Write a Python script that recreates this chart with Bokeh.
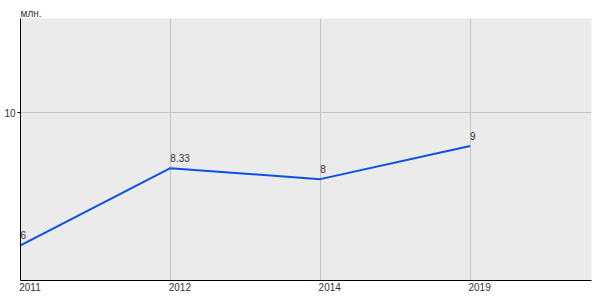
from bokeh.plotting import figure
from bokeh.models import FixedTicker, ColumnDataSource
from bokeh.core.properties import value
from bokeh.embed import file_html
from bokeh.resources import INLINE

years = ["2011", "2012", "2014", "2019"]
values = [6, 8.33, 8, 9]
labels = ["6", "8.33", "8", "9"]
unit = "млн."

xs = list(range(len(years)))
src = ColumnDataSource(dict(x=xs, y=values, t=labels))

FONT = "Liberation Sans"
p = figure(width=600, height=300, output_backend="svg", toolbar_location=None,
           x_range=(0, 3.81), y_range=(4.94, 12.85),
           min_border_left=20, min_border_right=9, min_border_top=18, min_border_bottom=20,
           background_fill_color="#ebebeb", border_fill_color="#ffffff",
           title=unit)
p.title.text_font = FONT
p.title.text_font_size = "10px"
p.title.text_font_style = "normal"
p.title.text_color = "#333333"
p.title.align = "left"
p.title.standoff = 0
p.outline_line_color = None

p.line("x", "y", source=src, line_color="#0a50e6", line_width=2)
p.text("x", "y", text="t", source=src, text_font=value(FONT), text_font_size="10px",
       text_color="#333333", text_align="left", text_baseline="bottom", y_offset=-6)

# x axis: labels starting at tick positions
off = 9.5 / 150
p.xaxis.ticker = FixedTicker(ticks=[i + off for i in xs])
p.xaxis.major_label_overrides = {i + off: y for i, y in zip(xs, years)}
p.xaxis.major_tick_line_color = None
p.xaxis.minor_tick_line_color = None
p.xaxis.major_tick_out = 0
p.xaxis.major_tick_in = 0
p.xaxis.axis_line_color = "#000000"
p.xaxis.major_label_text_font = FONT
p.xaxis.major_label_text_font_size = "10px"
p.xaxis.major_label_text_color = "#333333"
p.xaxis.major_label_standoff = 2
p.xgrid.ticker = FixedTicker(ticks=xs)
p.xgrid.grid_line_color = "#c4c4c4"

p.yaxis.ticker = FixedTicker(ticks=[10])
p.yaxis.major_tick_in = 0
p.yaxis.major_tick_out = 3
p.yaxis.minor_tick_line_color = None
p.yaxis.axis_line_color = "#000000"
p.yaxis.major_label_text_font = FONT
p.yaxis.major_label_text_font_size = "10px"
p.yaxis.major_label_text_color = "#333333"
p.yaxis.major_label_standoff = 2
p.ygrid.grid_line_color = "#c4c4c4"

open("out.html", "w").write(file_html(p, INLINE))
